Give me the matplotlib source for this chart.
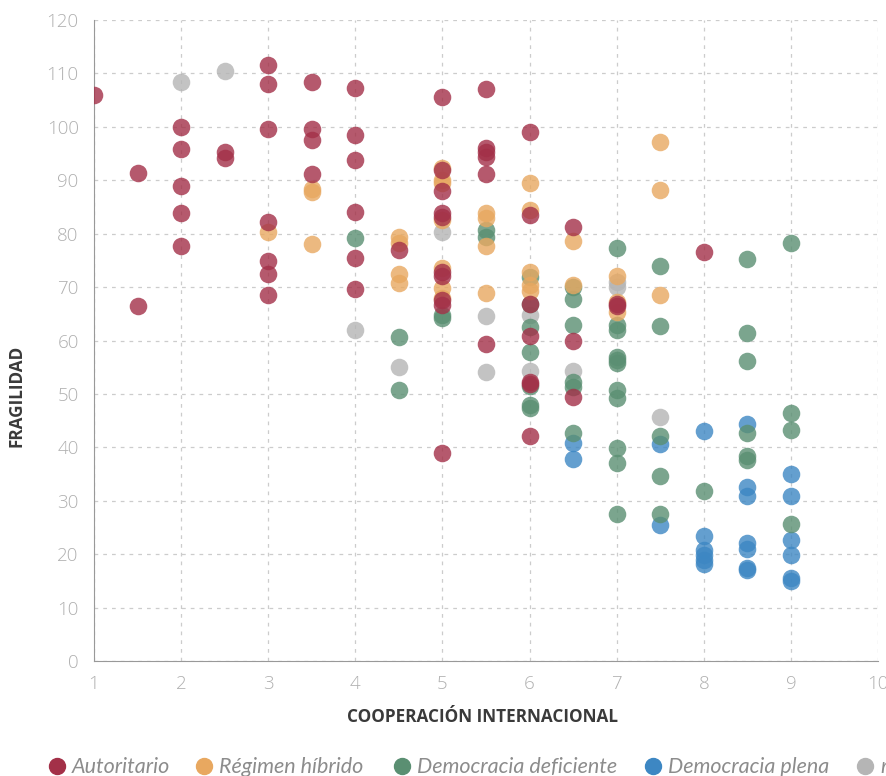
import matplotlib.pyplot as plt
from matplotlib.lines import Line2D

# data
aut_x = [1, 1.5, 1.5, 2, 2, 2, 2, 2, 2.5, 2.5,
         3, 3, 3, 3, 3, 3, 3, 3.5, 3.5, 3.5, 3.5,
         4, 4, 4, 4, 4, 4, 4.5,
         5, 5, 5, 5, 5, 5, 5, 5, 5, 5,
         5.5, 5.5, 5.5, 5.5, 5.5, 5.5,
         6, 6, 6, 6, 6, 6, 6,
         6.5, 6.5, 6.5, 7, 7, 8]
aut_y = [106.0, 91.4, 66.4, 100.0, 95.8, 89.0, 83.9, 77.6, 95.3, 94.2,
         111.6, 108.0, 99.6, 82.2, 74.9, 72.4, 68.5, 108.3, 99.6, 97.6, 91.2,
         107.3, 98.5, 93.7, 84.0, 75.4, 69.6, 76.9,
         105.6, 92.0, 88.0, 83.8, 83.2, 72.8, 72.0, 67.5, 66.7, 38.9,
         107.0, 96.0, 95.2, 94.4, 91.2, 59.4,
         99.1, 83.5, 66.8, 60.9, 52.2, 51.8, 42.2,
         81.3, 59.9, 49.5, 66.9, 66.5, 76.6]

hib_x = [3, 3.5, 3.5, 3.5, 4.5, 4.5, 4.5, 4.5,
         5, 5, 5, 5, 5, 5, 5, 5.5, 5.5, 5.5, 5.5,
         6, 6, 6, 6, 6, 6.5, 6.5, 7, 7, 7, 7.5, 7.5, 7.5]
hib_y = [80.3, 88.3, 87.8, 78.0, 79.4, 78.2, 72.4, 70.8,
         92.2, 90.0, 89.5, 82.5, 73.5, 69.8, 68.0, 83.8, 83.0, 77.7, 68.8,
         89.5, 84.5, 72.8, 70.3, 69.2, 78.6, 70.4, 72.1, 67.3, 65.3, 97.2, 88.2, 68.6]

def_x = [4, 4.5, 4.5, 5, 5, 5.5, 5.5,
         6, 6, 6, 6, 6, 6, 6,
         6.5, 6.5, 6.5, 6.5, 6.5, 6.5,
         7, 7, 7, 7, 7, 7, 7, 7, 7, 7, 7,
         7.5, 7.5, 7.5, 7.5, 7.5, 8,
         8.5, 8.5, 8.5, 8.5, 8.5, 8.5, 9, 9, 9, 9]
def_y = [79.2, 60.7, 50.7, 64.8, 64.2, 80.6, 79.3,
         71.9, 66.9, 62.6, 57.9, 51.5, 47.9, 47.4,
         70.0, 67.7, 62.9, 52.3, 51.3, 42.6,
         77.4, 62.9, 62.0, 57.0, 56.3, 55.7, 50.7, 49.2, 39.8, 37.0, 27.6,
         73.9, 62.8, 42.1, 34.7, 27.5, 31.8,
         75.2, 61.4, 56.1, 42.7, 38.3, 37.6, 78.3, 46.5, 43.3, 25.7]

ple_x = [6.5, 6.5, 7.5, 7.5, 8, 8, 8, 8, 8, 8,
         8.5, 8.5, 8.5, 8.5, 8.5, 8.5, 8.5, 9, 9, 9, 9, 9, 9]
ple_y = [40.9, 37.8, 40.6, 25.4, 43.1, 23.4, 20.8, 19.8, 18.9, 18.1,
         44.3, 32.6, 30.9, 22.0, 20.9, 17.4, 17.0, 35.1, 30.9, 22.6, 19.9, 15.6, 15.0]

otr_x = [2, 2.5, 4, 4.5, 5, 5.5, 5.5, 6, 6, 6.5, 7, 7, 7.5]
otr_y = [108.4, 110.4, 62.0, 55.0, 80.4, 64.5, 54.1, 64.8, 54.3, 54.2, 71.0, 70.0, 45.7]

labels = ["Autoritario", "Régimen híbrido", "Democracia deficiente", "Democracia plena", "r"]
colors = ["#a33048", "#e8a860", "#5a8f72", "#3d87c3", "#b5b5b5"]

fig = plt.figure(figsize=(8.87, 7.76), dpi=100)
ax = fig.add_axes([94 / 887, 115 / 776, 784 / 887, 641 / 776])

series = [(otr_x, otr_y), (ple_x, ple_y), (def_x, def_y), (hib_x, hib_y), (aut_x, aut_y)]
for (xs, ys), c in zip(series, colors[::-1]):
    ax.scatter(xs, ys, s=160, color=c, alpha=0.8, linewidths=0, zorder=3)

ax.set_xlim(1, 10)
ax.set_ylim(0, 120)
ax.set_xticks(range(1, 11))
ax.set_yticks(range(0, 121, 10))
ax.grid(True, linestyle=(0, (3, 4)), color="#cccccc", linewidth=0.9)
for side in ["top", "right"]:
    ax.spines[side].set_visible(False)
for side in ["left", "bottom"]:
    ax.spines[side].set_color("#999999")
ax.tick_params(axis="y", length=0, pad=11)
ax.tick_params(axis="x", length=0, pad=10)
ax.tick_params(labelsize=13.5, labelcolor="#b0b0b0")
for lab in ax.get_xticklabels() + ax.get_yticklabels():
    lab.set_family("Open Sans")
    lab.set_fontweight(300)

ax.set_xlabel("COOPERACIÓN INTERNACIONAL", family="Open Sans", fontweight="bold",
              fontsize=12.3, color="#3a3a3a")
ax.set_ylabel("FRAGILIDAD", family="Open Sans", fontweight="bold",
              fontsize=12.3, color="#3a3a3a")
ax.xaxis.set_label_coords(0.496, -0.073)
ax.yaxis.set_label_coords(-0.087, 0.413)

# legend row along the bottom edge
leg_x = [57, 204, 402, 653, 865]
for lx, lab, c in zip(leg_x, labels, colors):
    fig.add_artist(Line2D([lx / 887], [1 - 766 / 776], marker="o", markersize=11.5,
                          color=c, linestyle="none", transform=fig.transFigure))
    fig.text((lx + 15) / 887, 1 - 767 / 776, lab, family="Lato", style="italic",
             fontsize=15.5, color="#8c8c8c", va="center")

fig.savefig("out.png", dpi=100)
